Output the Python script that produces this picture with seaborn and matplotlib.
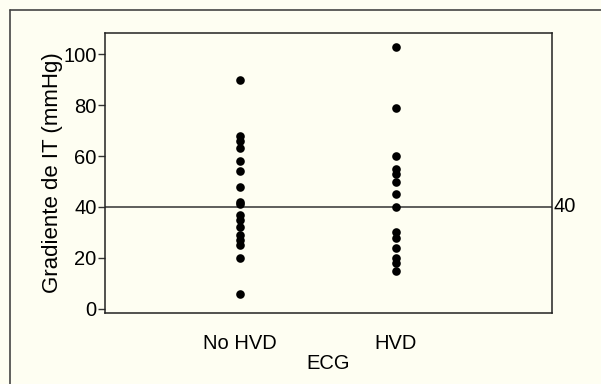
import pandas as pd
import matplotlib
matplotlib.use("Agg")
import matplotlib.pyplot as plt
import seaborn as sns
from matplotlib.lines import Line2D

# data
groups = ["No HVD", "HVD"]
no_hvd = [90, 68, 66, 63, 58, 54, 48, 42, 41, 37, 35, 32, 29, 27, 25, 20, 6]
hvd = [103, 79, 60, 55, 53, 50, 45, 40, 30, 28, 24, 20, 18, 15]
cutoff = 40
y_ticks = [0, 20, 40, 60, 80, 100]

df = pd.DataFrame({
    "ECG": [groups[0]] * len(no_hvd) + [groups[1]] * len(hvd),
    "grad": no_hvd + hvd,
})

sns.set_theme(style="white")
plt.rcParams["font.family"] = ["Liberation Sans", "DejaVu Sans"]
bg = "#fefef2"
fs = 14.5

fig = plt.figure(figsize=(6.01, 3.84), dpi=100, facecolor=bg)
ax = fig.add_axes([0.1747, 0.185, 0.7438, 0.729])
ax.set_facecolor(bg)

sns.stripplot(data=df, x="ECG", y="grad", order=groups, jitter=False,
              color="black", size=6.2, linewidth=0, ax=ax)

ax.axhline(cutoff, color="#333333", lw=1.1, zorder=1)
ax.text(1.004, cutoff, str(cutoff), transform=ax.get_yaxis_transform(),
        va="center", ha="left", fontsize=fs, color="black")

ax.set_xlim(-0.865, 2.0)
ax.set_ylim(-1.6, 108.3)
ax.set_yticks(y_ticks)
ax.tick_params(axis="y", direction="out", length=5, width=1, color="#333333",
               labelsize=fs, labelcolor="black", pad=1, left=True)
ax.tick_params(axis="x", length=0, labelsize=fs, labelcolor="black", pad=15)
ax.set_xlabel("ECG", fontsize=fs, color="black", labelpad=1)
ax.set_ylabel("Gradiente de IT (mmHg)", fontsize=16, color="black")
ax.yaxis.set_label_coords(-0.094, 0.5)
for sp in ax.spines.values():
    sp.set_color("#222222")
    sp.set_linewidth(1.1)

# outer frame (top and left edges visible)
fig.add_artist(Line2D([10 / 601, 10 / 601], [0, 1 - 10 / 384],
                      transform=fig.transFigure, color="#444444", lw=1.2))
fig.add_artist(Line2D([10 / 601, 1], [1 - 10 / 384, 1 - 10 / 384],
                      transform=fig.transFigure, color="#444444", lw=1.2))

fig.savefig("out.png", dpi=100, facecolor=bg)
